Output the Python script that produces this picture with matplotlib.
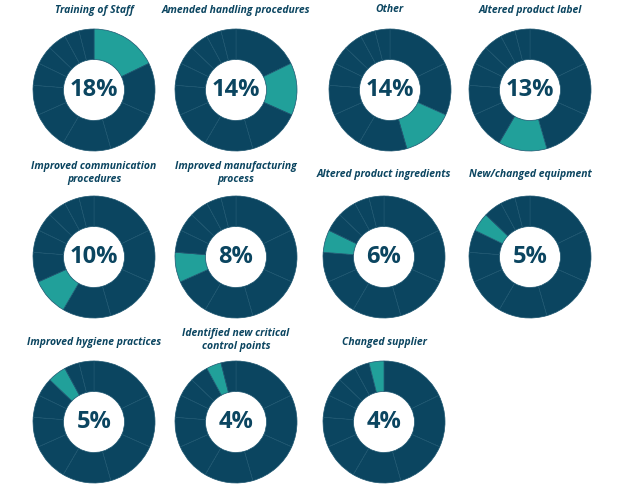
import matplotlib.pyplot as plt

labels = ['Training of Staff', 'Amended handling procedures', 'Other', 'Altered product label',
          'Improved communication\nprocedures', 'Improved manufacturing\nprocess',
          'Altered product ingredients', 'New/changed equipment', 'Improved hygiene practices',
          'Identified new critical\ncontrol points', 'Changed supplier']
shares = [18, 14, 14, 13, 10, 8, 6, 5, 5, 4, 4]

dark = '#0b4560'
teal = '#21a09a'

W, H = 624, 493
fig = plt.figure(figsize=(W / 100, H / 100), dpi=100)

centers = [(94, 90), (236, 90), (390, 90), (530, 90),
           (94, 257), (236, 257), (384, 257), (530, 257),
           (94, 422), (236, 422), (384, 422)]
title_y = [10, 10, 10, 10, 173, 173, 175, 175, 342, 340, 342]
r = 61

for i, (cx, cy) in enumerate(centers):
    ax = fig.add_axes([(cx - r) / W, 1 - (cy + r) / H, 2 * r / W, 2 * r / H])
    colors = [teal if j == i else dark for j in range(len(shares))]
    ax.pie(shares, colors=colors, startangle=90, counterclock=False, radius=1,
           wedgeprops=dict(width=0.5, edgecolor='#1d5670', linewidth=0.5))
    ax.set_xlim(-1, 1)
    ax.set_ylim(-1, 1)
    ax.set_aspect('equal')
    ax.axis('off')
    ax.text(0, 0, f'{shares[i]}%', ha='center', va='center', fontsize=17,
            fontweight='bold', color=dark, family='Open Sans')
    fig.text(cx / W, 1 - title_y[i] / H, labels[i], ha='center', va='center',
             fontsize=7.5, fontweight='bold', style='italic', color=dark,
             family='Open Sans', linespacing=1.3)

fig.savefig('out.png', dpi=100, facecolor='white')
